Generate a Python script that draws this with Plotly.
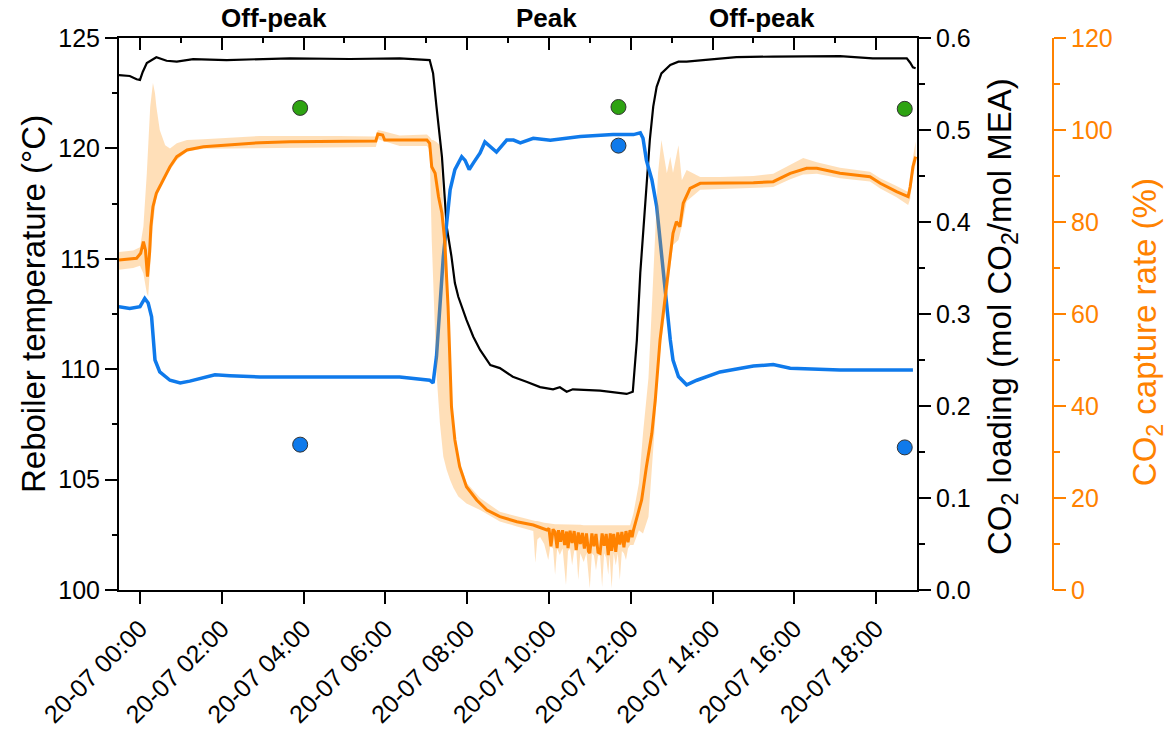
import pandas as pd
import plotly.graph_objects as go

BASE = pd.Timestamp("2023-07-20 00:00")
FONT = "Liberation Sans, Arial, Helvetica, sans-serif"
ORANGE = "#FF8200"
BLUE = "#0F7AEB"
GREEN = "#2EA312"

# Reboiler temperature (°C); time in minutes from 20-07 00:00
temp_min = [-31, -15, -5, 0, 4, 10, 24, 39, 54, 78, 127, 220, 308, 381, 425, 430,
            435, 443, 450, 457, 462, 467, 479, 489, 499, 509, 514, 528, 547, 567,
            587, 606, 616, 626, 635, 675, 704, 714, 723, 729, 734, 741, 748, 753,
            758, 765, 778, 790, 802, 826, 875, 929, 1027, 1075, 1125, 1130, 1134, 1138]
temp_val = [123.32, 123.28, 123.13, 123.10, 123.46, 123.87, 124.13, 123.97, 123.93,
            124.04, 124.00, 124.08, 124.05, 124.08, 124.00, 123.41, 121.89, 119.62,
            116.45, 115.10, 113.90, 113.28, 112.23, 111.47, 110.87, 110.42, 110.19,
            110.05, 109.66, 109.43, 109.19, 109.09, 109.18, 108.98, 109.09, 109.03,
            108.91, 108.88, 108.98, 111.32, 114.36, 117.36, 120.38, 121.89, 122.79,
            123.40, 123.78, 123.93, 123.93, 124.00, 124.13, 124.16, 124.18, 124.08,
            124.08, 123.88, 123.67, 123.63]

# Lean CO2 loading (mol CO2/mol MEA)
load_min = [-31, -15, 0, 7, 12, 17, 22, 29, 44, 59, 73, 88, 110, 132, 176, 235, 308,
            381, 425, 430, 435, 440, 445, 450, 455, 462, 472, 477, 483, 489, 499, 506,
            514, 523, 538, 548, 558, 577, 602, 646, 694, 724, 734, 738, 743, 751, 758,
            763, 768, 773, 778, 782, 790, 802, 817, 851, 900, 929, 954, 1027, 1134]
load_val = [0.308, 0.306, 0.308, 0.317, 0.312, 0.297, 0.250, 0.237, 0.228, 0.225,
            0.227, 0.230, 0.234, 0.233, 0.2315, 0.2315, 0.2315, 0.2315, 0.228, 0.225,
            0.254, 0.308, 0.362, 0.399, 0.435, 0.457, 0.471, 0.467, 0.457, 0.464,
            0.475, 0.487, 0.482, 0.476, 0.489, 0.489, 0.486, 0.491, 0.489, 0.493,
            0.495, 0.495, 0.497, 0.491, 0.467, 0.446, 0.417, 0.380, 0.344, 0.301,
            0.272, 0.250, 0.232, 0.223, 0.228, 0.237, 0.2435, 0.245, 0.241, 0.239, 0.239]

# CO2 capture rate (%), smoothed signal
cap_min = [-31, -15, -5, 1, 5, 8, 11, 14, 16, 19,
           24, 34, 44, 54, 69, 93, 127, 176, 220, 293,
           346, 349, 356, 359, 381, 421, 425, 428, 433, 438,
           443, 447, 452, 455, 457, 462, 469, 479, 494, 509,
           528, 553, 577, 597, 600, 603, 606, 609, 612, 614,
           617, 620, 623, 626, 628, 631, 634, 637, 640, 643,
           646, 649, 652, 655, 658, 660, 663, 666, 669, 672,
           675, 678, 681, 684, 687, 690, 692, 695, 698, 701,
           704, 707, 710, 713, 716, 719, 722, 724, 729, 736,
           743, 751, 756, 763, 773, 782, 787, 792, 797, 807,
           822, 851, 900, 929, 954, 978, 993, 1027, 1051, 1071,
           1086, 1110, 1127, 1130, 1134, 1138]
cap_val = [71.74, 71.89, 72.11, 73.20, 75.72, 73.91, 68.11, 73.20, 78.98, 83.33,
           86.24, 89.13, 92.02, 94.20, 95.65, 96.37, 96.74, 97.24, 97.46, 97.61,
           97.61, 99.13, 98.91, 97.83, 97.83, 97.83, 97.11, 92.02, 90.59, 85.50,
           81.89, 76.09, 61.59, 47.11, 39.85, 32.61, 26.80, 22.46, 19.57, 17.39,
           15.94, 14.85, 14.13, 13.04, 13.4, 9.5, 13.2, 12.6, 9.1, 13.0,
           10.5, 13.0, 9.8, 12.7, 9.1, 12.9, 10.2, 12.8, 8.7, 12.5,
           10.0, 12.4, 9.0, 12.3, 8.4, 8.0, 12.3, 9.5, 12.2, 8.2,
           8.0, 12.3, 9.6, 12.2, 7.6, 12.3, 8.5, 12.2, 8.3, 12.5,
           9.9, 12.6, 9.3, 12.8, 10.4, 13.0, 11.5, 13.04, 15.94, 19.57,
           26.80, 34.07, 41.30, 54.35, 66.67, 77.54, 80.07, 78.98, 84.07, 87.33,
           88.41, 88.41, 88.54, 88.76, 90.59, 91.67, 91.67, 90.59, 90.22, 89.85,
           88.41, 86.59, 85.50, 87.67, 92.02, 94.20]

# Raw capture rate spread (min / max)
band_min = [-31, -10, 0, 5, 10, 12, 15, 19, 22, 24,
            29, 37, 44, 54, 69, 93, 176, 293, 346, 349,
            356, 381, 421, 425, 428, 430, 435, 440, 445, 450,
            455, 460, 467, 479, 499, 528, 553, 577, 580, 583,
            587, 593, 599, 602, 606, 609, 612, 616, 620, 625,
            628, 631, 634, 637, 640, 643, 646, 651, 655, 660,
            663, 666, 669, 672, 675, 678, 681, 684, 687, 689,
            692, 695, 698, 701, 704, 707, 710, 713, 716, 719,
            724, 732, 738, 746, 751, 756, 760, 765, 773, 778,
            782, 790, 795, 802, 822, 851, 900, 929, 954, 973,
            993, 1027, 1071, 1086, 1110, 1127, 1130, 1134, 1138]
band_lo = [69.6, 70.0, 70.5, 68.8, 64.5, 63.8, 70.0, 79.3, 83.3, 85.2,
           88.4, 90.0, 91.3, 93.5, 95.3, 95.9, 95.9, 96.2, 96.3, 98.0,
           97.7, 96.5, 96.5, 95.7, 76.1, 68.9, 47.2, 36.3, 29.0, 26.1,
           23.9, 22.2, 20.3, 18.8, 17.4, 14.9, 13.8, 12.8, 5.9, 11.0,
           11.5, 10.0, 6.5, 9.5, 9.0, 3.3, 9.0, 7.6, 9.0, 1.1,
           8.5, 9.0, 5.4, 8.5, 9.0, 2.2, 8.0, 6.1, 8.0, 0.4,
           8.0, 7.5, 4.3, 7.5, 7.5, 0.7, 8.0, 7.0, 3.3, 7.5,
           0.4, 8.0, 5.4, 8.0, 2.2, 8.5, 8.0, 6.5, 9.0, 9.8,
           9.8, 13.0, 12.3, 15.9, 26.8, 37.0, 47.1, 54.3, 63.0, 70.0,
           75.0, 76.1, 79.0, 84.5, 87.0, 87.2, 87.4, 87.6, 89.3, 90.3,
           90.5, 89.5, 88.8, 87.3, 85.4, 83.7, 85.0, 90.0, 92.5]
band_hi = [73.5, 73.8, 74.5, 79.0, 90.6, 97.8, 105.1, 110.2, 108.0, 105.1,
           100.0, 96.7, 96.0, 97.1, 97.8, 98.0, 98.7, 98.7, 98.6, 100.0,
           99.8, 98.8, 99.0, 98.5, 97.8, 97.8, 97.4, 96.7, 83.3, 76.1,
           47.2, 36.3, 29.0, 23.3, 20.0, 17.0, 16.0, 15.2, 15.0, 15.0,
           14.8, 14.6, 14.5, 14.4, 14.4, 14.3, 14.3, 14.3, 14.3, 14.2,
           14.2, 14.2, 14.2, 14.2, 14.2, 14.2, 14.2, 14.1, 14.1, 14.1,
           14.1, 14.1, 14.1, 14.1, 14.1, 14.1, 14.1, 14.1, 14.1, 14.1,
           14.1, 14.1, 14.1, 14.1, 14.1, 14.1, 14.1, 14.1, 14.1, 14.1,
           16.7, 23.2, 34.1, 46.1, 61.6, 76.1, 90.6, 97.8, 90.6, 94.2,
           90.7, 96.7, 89.1, 91.3, 89.8, 89.8, 90.0, 90.5, 92.5, 93.9,
           93.0, 91.8, 90.9, 89.5, 87.8, 86.5, 89.0, 94.0, 97.5]

# Lab samples (mol CO2/mol MEA)
sample_min = [235, 702, 1122]
rich_sample = [0.524, 0.525, 0.523]
lean_sample = [0.158, 0.483, 0.155]

phase_labels = ["Off-peak", "Peak", "Off-peak"]
phase_min = [197, 596, 912]

x_range_min = [-30.8, 1140]


def ts(mins):
    return [BASE + pd.Timedelta(minutes=m) for m in mins]


fig = go.Figure()

fig.add_trace(go.Scatter(x=ts(temp_min), y=temp_val, mode="lines",
                         line=dict(color="black", width=2.2), yaxis="y",
                         hoverinfo="skip"))
fig.add_trace(go.Scatter(x=ts(load_min), y=load_val, mode="lines",
                         line=dict(color=BLUE, width=3.5), yaxis="y2",
                         hoverinfo="skip"))
band_x = ts(band_min) + ts(band_min)[::-1]
band_y = band_hi + band_lo[::-1]
fig.add_trace(go.Scatter(x=band_x, y=band_y, mode="lines", fill="toself",
                         fillcolor="rgba(255,140,0,0.28)", line=dict(width=0),
                         yaxis="y3", hoverinfo="skip"))
fig.add_trace(go.Scatter(x=ts(cap_min), y=cap_val, mode="lines",
                         line=dict(color=ORANGE, width=3), yaxis="y3",
                         hoverinfo="skip"))
fig.add_trace(go.Scatter(x=ts(sample_min), y=rich_sample, mode="markers",
                         marker=dict(color=GREEN, size=15,
                                     line=dict(color="#333333", width=1)),
                         xaxis="x2", yaxis="y2", hoverinfo="skip"))
fig.add_trace(go.Scatter(x=ts(sample_min), y=lean_sample, mode="markers",
                         marker=dict(color=BLUE, size=15,
                                     line=dict(color="#333333", width=1)),
                         xaxis="x2", yaxis="y2", hoverinfo="skip"))

xr = ts(x_range_min)
tick_font = dict(family=FONT, size=25, color="black")
two_h = 2 * 3600 * 1000

layout_axes = dict(
    xaxis=dict(domain=[0, 0.8544], range=xr, type="date", anchor="y",
               tickformat="%d-%m %H:%M", dtick=two_h, tick0=BASE, tickangle=-45,
               ticks="outside", ticklen=12, tickwidth=2, tickcolor="black",
               showline=True, linewidth=2, linecolor="black", showgrid=False,
               zeroline=False, tickfont=tick_font, automargin=False),
    xaxis2=dict(domain=[0, 0.8544], range=xr, type="date", overlaying="x",
                side="top", anchor="y", dtick=two_h, tick0=BASE,
                ticks="inside", ticklen=12, tickwidth=2, tickcolor="black",
                showticklabels=False, showline=True, linewidth=2,
                linecolor="black", showgrid=False, zeroline=False, automargin=False,
                minor=dict(dtick=3600 * 1000, ticks="inside", ticklen=5,
                           tickwidth=2, tickcolor="black", showgrid=False)),
    yaxis=dict(range=[100, 125], dtick=5, ticks="outside", ticklen=12, tickwidth=2,
               tickcolor="black", showline=True, linewidth=2, linecolor="black",
               showgrid=False, zeroline=False, tickfont=tick_font, automargin=False,
               minor=dict(dtick=2.5, ticks="outside", ticklen=5, tickwidth=2,
                          tickcolor="black", showgrid=False)),
    yaxis2=dict(range=[0, 0.6], dtick=0.1, tickformat=".1f", overlaying="y",
                side="right", anchor="x", ticks="outside", ticklen=12, tickwidth=2,
                tickcolor="black", showline=True, linewidth=2, linecolor="black",
                showgrid=False, zeroline=False, tickfont=tick_font, automargin=False,
                minor=dict(dtick=0.05, ticks="outside", ticklen=6, tickwidth=2,
                           tickcolor="black", showgrid=False)),
    yaxis3=dict(range=[0, 120], dtick=20, overlaying="y", side="right",
                anchor="free", position=1.0, ticks="outside", ticklen=12,
                tickwidth=2, tickcolor=ORANGE, showline=True, linewidth=2,
                linecolor=ORANGE, showgrid=False, zeroline=False, automargin=False,
                tickfont=dict(family=FONT, size=25, color=ORANGE),
                minor=dict(dtick=10, ticks="outside", ticklen=6, tickwidth=2,
                           tickcolor=ORANGE, showgrid=False)),
)

title_font = dict(family=FONT, size=33, color="black")
annotations = [
    dict(text="Reboiler temperature (°C)", xref="paper", yref="paper",
         x=-0.0921, y=0.518, textangle=-90, showarrow=False,
         xanchor="center", yanchor="middle", font=title_font),
    dict(text="CO<sub>2</sub> loading (mol CO<sub>2</sub>/mol MEA)", xref="paper",
         yref="paper", x=0.9454, y=0.4946, textangle=-90, showarrow=False,
         xanchor="center", yanchor="middle", font=title_font),
    dict(text="CO<sub>2</sub> capture rate (%)", xref="paper", yref="paper",
         x=1.1006, y=0.467, textangle=-90, showarrow=False,
         xanchor="center", yanchor="middle",
         font=dict(family=FONT, size=33, color=ORANGE)),
]
for label, m in zip(phase_labels, phase_min):
    annotations.append(dict(text=f"<b>{label}</b>", xref="x", yref="paper",
                            x=BASE + pd.Timedelta(minutes=m), y=1.036,
                            showarrow=False, xanchor="center", yanchor="middle",
                            font=dict(family=FONT, size=26, color="black")))

fig.update_layout(
    width=1173, height=730, autosize=False,
    margin=dict(l=119, r=120, t=38, b=140, pad=0, autoexpand=False),
    paper_bgcolor="white", plot_bgcolor="white",
    showlegend=False, font=dict(family=FONT),
    annotations=annotations,
    **layout_axes,
)

fig.write_html("out.html")
